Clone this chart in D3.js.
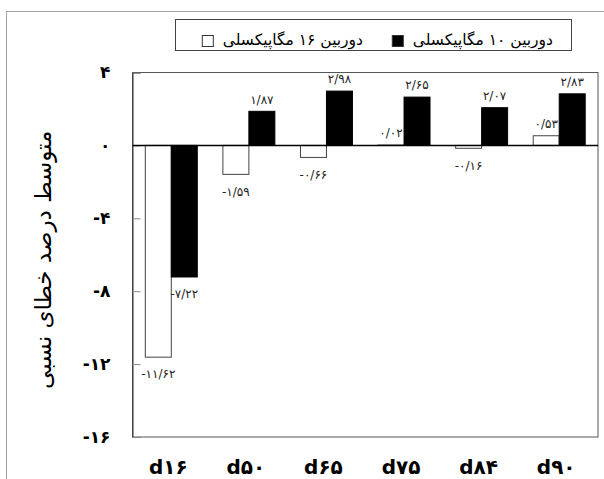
<!DOCTYPE html>
<html>
<head>
<meta charset="utf-8">
<script src="https://cdnjs.cloudflare.com/ajax/libs/d3/7.8.5/d3.min.js"></script>
<style>
  body { margin: 0; background: #fff; }
  svg { display: block; font-family: "DejaVu Sans", sans-serif; }
</style>
</head>
<body>
<div id="plot"></div>
<script>
// categories and series
var categories = ["d۱۶", "d۵۰", "d۶۵", "d۷۵", "d۸۴", "d۹۰"];
var cam16 = [-11.62, -1.59, -0.66, 0.02, -0.16, 0.53];
var cam10 = [-7.22, 1.87, 2.98, 2.65, 2.07, 2.83];
var cam16Labels = ["-۱۱/۶۲", "-۱/۵۹", "-۰/۶۶", "۰/۰۲", "-۰/۱۶", "۰/۵۳"];
var cam10Labels = ["-۷/۲۲", "۱/۸۷", "۲/۹۸", "۲/۶۵", "۲/۰۷", "۲/۸۳"];
var yTicks = [4, 0, -4, -8, -12, -16];
var yTickLabels = ["۴", "۰", "-۴", "-۸", "-۱۲", "-۱۶"];
var seriesNames = ["دوربین ۱۶ مگاپیکسلی", "دوربین ۱۰ مگاپیکسلی"];
var yTitle = "متوسط درصد خطای نسبی";

var W = 604, H = 479;
var plot = {left: 132.5, top: 72.5, right: 598, bottom: 437};

var svg = d3.select("#plot").append("svg")
    .attr("width", W).attr("height", H);

// outer chart-area border
svg.append("rect")
    .attr("x", 6.5).attr("y", 11.5)
    .attr("width", W + 10).attr("height", H + 10)
    .style("fill", "none").style("stroke", "#a0a0a0");

var x0 = d3.scaleBand().domain(d3.range(categories.length))
    .range([plot.left, plot.right]).paddingInner(0.33).paddingOuter(0.165);
var x1 = d3.scaleBand().domain([0, 1]).range([0, x0.bandwidth()]);
var y = d3.scaleLinear().domain([-16, 4]).range([plot.bottom, plot.top]);

// plot frame
svg.append("rect")
    .attr("x", plot.left).attr("y", plot.top)
    .attr("width", plot.right - plot.left).attr("height", plot.bottom - plot.top)
    .style("fill", "none").style("stroke", "#555").style("stroke-width", 1);

// y axis, ticks pointing inward
var yAxis = d3.axisRight(y).tickValues(yTicks).tickSize(8).tickFormat("");
var gy = svg.append("g").attr("transform", "translate(" + plot.left + ",0)").call(yAxis);
gy.select(".domain").style("stroke", "#333");
gy.selectAll(".tick line").style("stroke", "#888");

svg.selectAll(".ylab").data(yTicks).enter().append("text")
    .attr("class", "ylab")
    .attr("x", plot.left - 22)
    .attr("y", function(d) { return y(d); })
    .attr("dy", "0.35em")
    .attr("text-anchor", "end")
    .style("direction", "ltr").style("unicode-bidi", "bidi-override")
    .style("font-size", "17px").style("font-weight", "bold")
    .text(function(d, i) { return yTickLabels[i]; });

// y title
svg.append("text")
    .attr("transform", "translate(43," + ((plot.top + plot.bottom) / 2 + 5) + ") rotate(-90)")
    .attr("text-anchor", "middle")
    .attr("dy", "0.35em")
    .style("font-size", "23px")
    .style("direction", "rtl")
    .text(yTitle);

// bars
var series = [
  {values: cam16, labels: cam16Labels, fill: "#fff", stroke: "#444"},
  {values: cam10, labels: cam10Labels, fill: "#000", stroke: "#000"}
];

series.forEach(function(s, si) {
  svg.selectAll(".bar" + si).data(s.values).enter().append("rect")
      .attr("class", "bar" + si)
      .attr("x", function(d, i) { return x0(i) + x1(si); })
      .attr("y", function(d) { return y(Math.max(0, d)); })
      .attr("width", x1.bandwidth())
      .attr("height", function(d) { return Math.abs(y(d) - y(0)); })
      .style("fill", s.fill).style("stroke", s.stroke).style("stroke-width", 1);

  svg.selectAll(".lab" + si).data(s.values).enter().append("text")
      .attr("class", "lab" + si)
      .attr("x", function(d, i) { return x0(i) + x1(si) + x1.bandwidth() / 2; })
      .attr("y", function(d) { return d >= 0 ? y(d) - 12 : y(d) + 17; })
      .attr("dy", "0.35em")
      .attr("text-anchor", "middle")
      .style("direction", "ltr").style("unicode-bidi", "bidi-override")
      .style("font-size", "12px").style("fill", "#222")
      .text(function(d, i) { return s.labels[i]; });
});

// zero line
svg.append("line")
    .attr("x1", plot.left).attr("x2", plot.right)
    .attr("y1", y(0)).attr("y2", y(0))
    .style("stroke", "#000").style("stroke-width", 1.5);

// category labels
svg.selectAll(".xlab").data(categories).enter().append("text")
    .attr("class", "xlab")
    .attr("x", function(d, i) { return x0(i) + x0.bandwidth() / 2 - 3; })
    .attr("y", 467)
    .attr("dy", "0.35em")
    .attr("text-anchor", "middle")
    .style("direction", "ltr").style("unicode-bidi", "bidi-override")
    .style("font-size", "20px").style("font-weight", "bold")
    .text(function(d) { return d; });

// legend
var legend = svg.append("g");
legend.append("rect")
    .attr("x", 175.5).attr("y", 19.5).attr("width", 396).attr("height", 31)
    .style("fill", "#fff").style("stroke", "#444");

var legendItems = [
  {name: seriesNames[1], fill: "#000", right: 553},
  {name: seriesNames[0], fill: "#fff", right: 363}
];
legendItems.forEach(function(it) {
  var t = legend.append("text")
      .attr("x", it.right).attr("y", 40)
      .attr("dy", "0.35em")
      .attr("text-anchor", "start")
      .style("direction", "rtl")
      .style("font-size", "15.5px")
      .text(it.name);
  var w = t.node().getComputedTextLength();
  legend.append("rect")
      .attr("x", it.right - w - 20.5).attr("y", 35.5)
      .attr("width", 11).attr("height", 11)
      .style("fill", it.fill).style("stroke", "#333");
});
</script>
</body>
</html>
